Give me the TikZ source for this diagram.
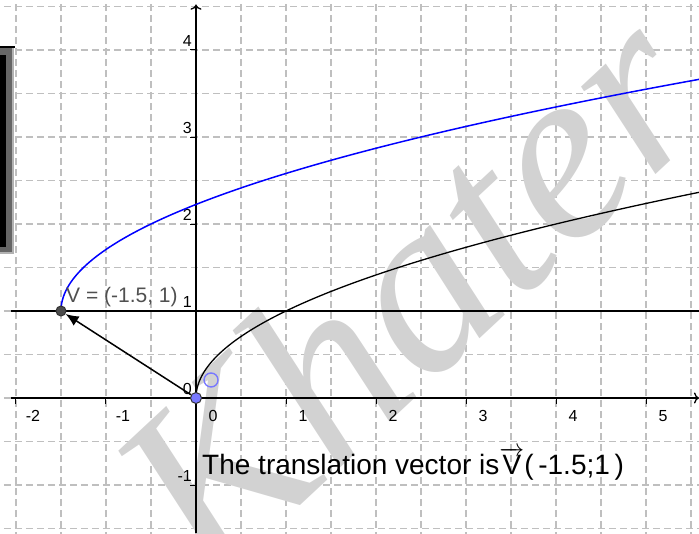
\documentclass[tikz,border=0pt]{standalone}
\usepackage{fontspec}
\setmainfont{Liberation Sans}
\newfontfamily\wmfont{Liberation Serif}
\usetikzlibrary{arrows.meta}
\definecolor{ptblue}{RGB}{120,120,255}
\definecolor{labgray}{RGB}{80,80,80}
\tikzset{
  gridline/.style={gray!50,line width=1.2pt,dash pattern=on 7pt off 4pt,step=0.5},
  axis/.style={line width=1.3pt,-{To[length=5pt,width=11pt]}},
  ticklab/.style={inner sep=0pt,font=\fontsize{16}{16}\selectfont},
  pt/.style={circle,draw=black!80,line width=1pt,inner sep=0pt,minimum size=11pt}
}
\begin{document}
\begin{tikzpicture}[x=90pt,y=87pt]
\useasboundingbox (-2.1778,-1.5517) rectangle (5.5889,4.5747);
\clip (-2.1778,-1.5517) rectangle (5.5889,4.5747);
\draw[gridline] (-2.5,-2) grid (6,5);
\node[rotate=43,text=gray!35,font=\wmfont\itshape\fontsize{250}{250}\selectfont] at (2.35,1.25) {Khater};

\fill[gray!60] (-2.1778,1.655) rectangle (-2.022,4.046);
\fill[black!60] (-2.1778,1.678) rectangle (-2.044,4.023);
\fill[black] (-2.1778,1.736) rectangle (-2.111,3.943);
\draw[line width=2pt] (-2.1778,4.035) -- (-2.011,4.035);

\draw[axis] (-2.056,0) -- (5.5889,0);
\draw[axis] (0,-1.5517) -- (0,4.52);
\draw[line width=1.3pt] (-2.056,1) -- (5.5889,1);
\foreach \i in {-2,...,5}{
  \draw[line width=1pt] (\i,0) -- ++(0,-6pt);
  \node[ticklab,anchor=north,xshift=17pt,yshift=-12pt] at (\i,0) {\i};
}
\foreach \j in {-1,...,4}{
  \draw[line width=1pt] (0,\j) -- ++(-6pt,0);
  \node[ticklab,anchor=south east,xshift=-4pt,yshift=3pt] at (0,\j) {\j};
}

\draw[line width=1.3pt,domain=0:2.38,samples=120,smooth] plot ({\x*\x},\x);
\draw[blue,line width=1.5pt,domain=0:2.67,samples=120,smooth] plot ({\x*\x-1.5},{\x+1});

\node[pt,fill=ptblue] (o) at (0,0) {};
\node[pt,fill=black!70,minimum size=10pt] (v) at (-1.5,1) {};
\draw[line width=1.5pt,-{Latex[length=13pt,width=11pt]}] (o) -- (v);
\node[circle,draw=ptblue,line width=1.4pt,minimum size=14pt,inner sep=0pt] (c) at (0.167,0.207) {};

\node[anchor=base west,inner sep=0pt,text=labgray,font=\fontsize{21}{21}\selectfont] (vlab) at ([xshift=5pt,yshift=9pt]v.center) {V = (-1.5,\ 1)};
\node[anchor=base west,inner sep=0pt,font=\fontsize{28}{28}\selectfont] (txt) at (0.067,-0.885) {The translation vector is$\overrightarrow{\mbox{V}}$(\,-1.5;1\,)};
\end{tikzpicture}
\end{document}
